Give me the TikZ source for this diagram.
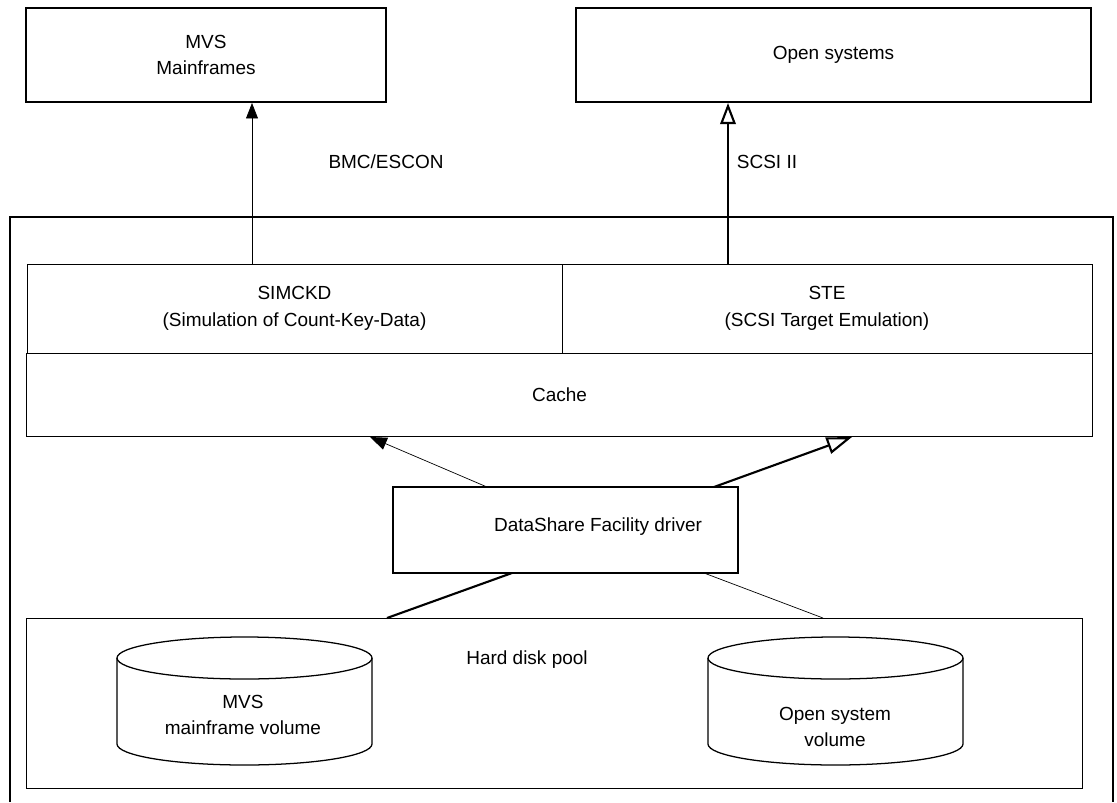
\documentclass[tikz,border=0pt]{standalone}
\usepackage{fontspec}
\setmainfont{Liberation Sans}
\usetikzlibrary{arrows.meta}

\begin{document}
\begin{tikzpicture}[%
      x=0.025cm, y=-0.025cm,
      every node/.style={font=\fontsize{13.5}{19}\selectfont, align=center},
      hostbox/.style={draw, line width=1.4pt, minimum height=2.35cm},
      layerbox/.style={draw, line width=0.6pt},
      disk/.style={line width=0.9pt},
      thinlink/.style={line width=0.5pt},
      thicklink/.style={line width=1.5pt},
      ]
      \useasboundingbox (0,0) rectangle (1117,802);

      % hosts
      \node [hostbox, minimum width=9cm] (mvs) at (206,55) {MVS\\Mainframes};
      \node [hostbox, minimum width=12.875cm] (open) at (833.5,55) {Open systems};

      % the storage subsystem
      \draw [line width=1.6pt] (10,802) -- (10,217) -- (1113,217) -- (1113,802);

      \node [layerbox, minimum width=13.375cm, minimum height=2.225cm] (simckd) at (294.5,308.5)
            {SIMCKD\\(Simulation of Count-Key-Data)};
      \node [layerbox, minimum width=13.25cm, minimum height=2.225cm] (ste) at (827,308.5)
            {STE\\(SCSI Target Emulation)};
      \node [layerbox, minimum width=26.625cm, minimum height=2.075cm] (cache) at (559.5,394.5) {Cache};
      \node [layerbox, line width=0.8pt, minimum width=8.625cm, minimum height=2.15cm] (driver) at (565.5,530) {};
      \node (drivertext) at (598,527) {DataShare Facility driver};
      \node [layerbox, minimum width=26.375cm, minimum height=4.25cm] (pool) at (554.5,703) {};
      \node (pooltext) at (527,660) {Hard disk pool};

      % volumes
      \draw [disk] (117,658) -- (117,744) arc [start angle=180, end angle=0, x radius=127.5, y radius=21] -- (372,658);
      \draw [disk] (244.5,658) ellipse [x radius=127.5, y radius=21];
      \node (mvsdisk) at (243,715) {MVS\\mainframe volume};
      \draw [disk] (708,658) -- (708,744) arc [start angle=180, end angle=0, x radius=127.5, y radius=21] -- (963,658);
      \draw [disk] (835.5,658) ellipse [x radius=127.5, y radius=21];
      \node (opendisk) at (835,727) {Open system\\volume};

      % channels
      \coordinate (bmcfoot) at (252,264);
      \coordinate (scsifoot) at (728,264);
      \draw [thinlink, -{Triangle[length=11pt,width=8.5pt]}] (bmcfoot) -- (bmcfoot |- mvs.south);
      \draw [thicklink, -{Triangle[open,length=15pt,width=11pt]}] (scsifoot) -- (scsifoot |- open.south);
      \node (bmc) at (386,162) {BMC/ESCON};
      \node (scsi) at (767,162) {SCSI II};

      % driver links
      \coordinate (d1) at (487,487);
      \coordinate (d2) at (714,487);
      \coordinate (d3) at (512,573);
      \coordinate (d4) at (704,573);
      \coordinate (c1) at (370,437);
      \coordinate (c2) at (852,437);
      \coordinate (p1) at (387,618);
      \coordinate (p2) at (823,618);
      \draw [thinlink, -{Triangle[length=12pt,width=9pt]}] (d1) -- (c1);
      \draw [thicklink, -{Triangle[open,length=18pt,width=12pt]}] (d2) -- (c2);
      \draw [thicklink] (d3) -- (p1);
      \draw [thinlink] (d4) -- (p2);
\end{tikzpicture}
\end{document}
